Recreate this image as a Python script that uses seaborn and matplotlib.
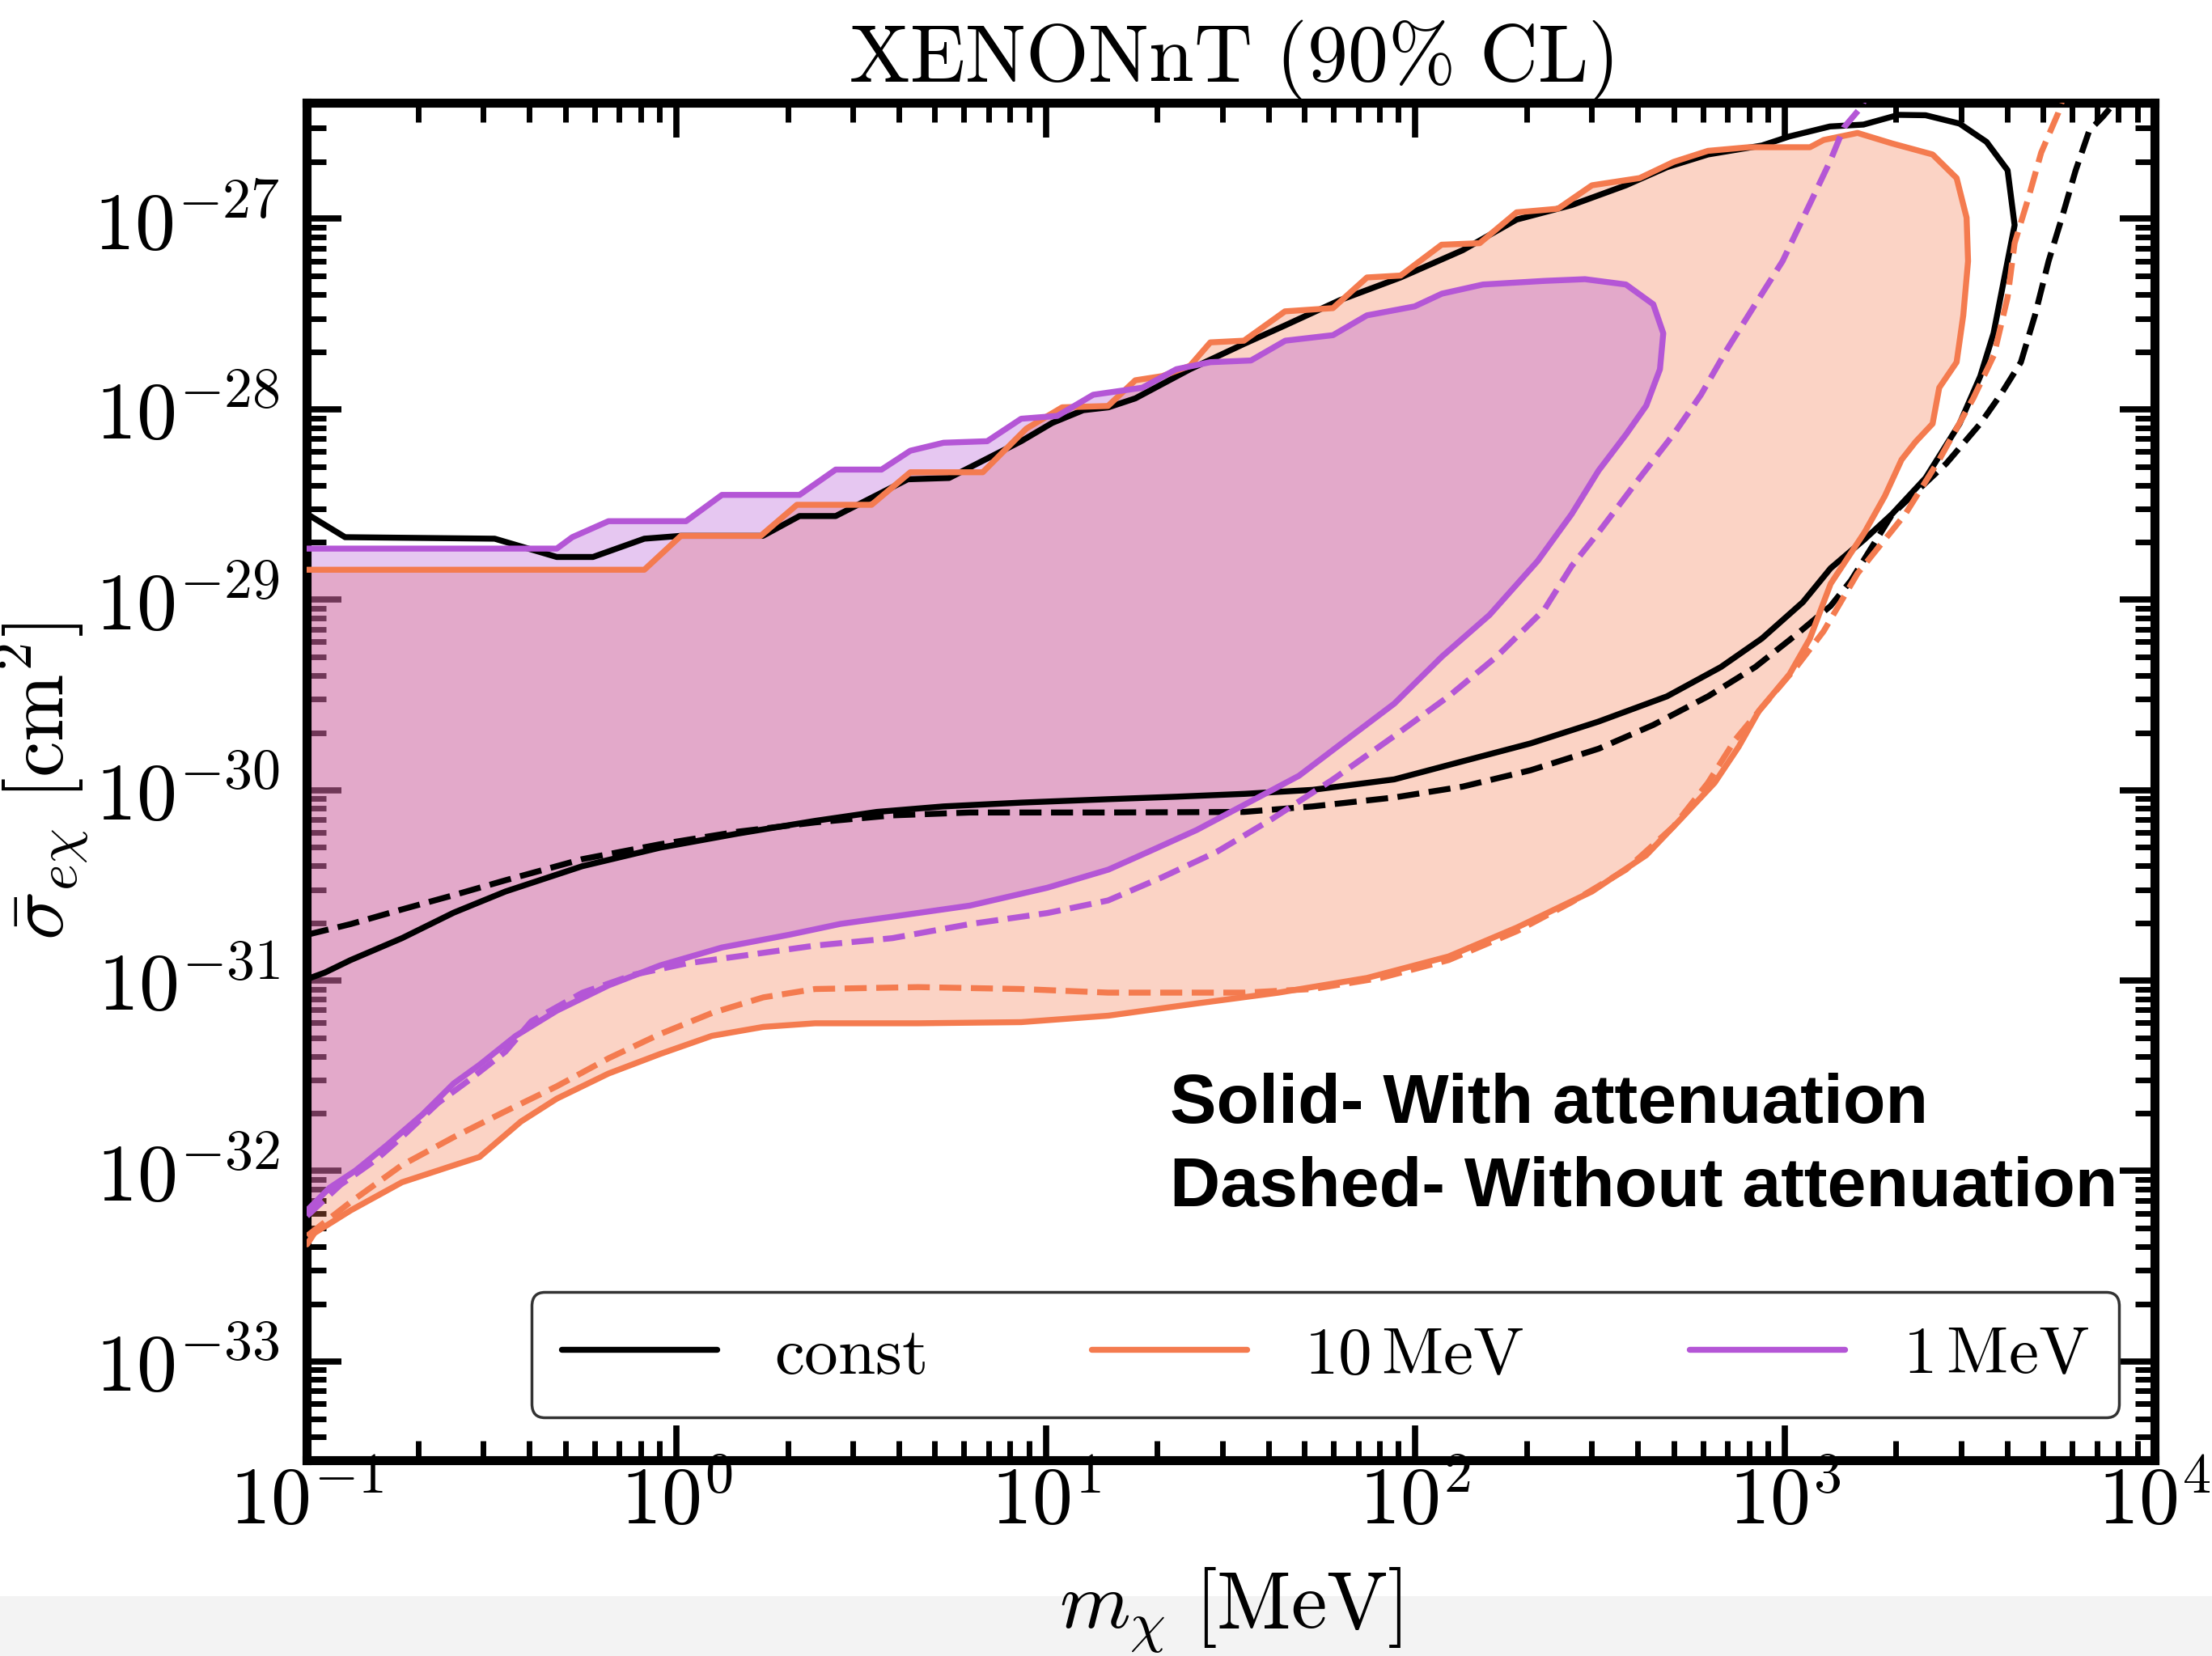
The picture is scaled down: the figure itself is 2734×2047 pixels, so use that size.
import numpy as np
import pandas as pd
import matplotlib
matplotlib.use("Agg")
import matplotlib.pyplot as plt
from matplotlib.lines import Line2D
from matplotlib.patches import Rectangle
from matplotlib.ticker import LogLocator, FuncFormatter, NullFormatter
import seaborn as sns

# --- curves: (log10 m_chi [MeV], log10 sigma [cm^2]) ---
# const mediator, with attenuation (solid, closed contour)
CONST_ATT = [
    (-1.0, -28.55), (-0.897, -28.672), (-0.492, -28.680), (-0.324, -28.776), (-0.226, -28.776),
    (-0.087, -28.680), (0.012, -28.665), (0.234, -28.665), (0.333, -28.561), (0.431, -28.561),
    (0.626, -28.368), (0.738, -28.361), (0.933, -28.168), (1.017, -28.072), (1.101, -28.005),
    (1.169, -27.990), (1.242, -27.943), (1.390, -27.790), (1.536, -27.657), (1.647, -27.560),
    (1.796, -27.427), (1.960, -27.308), (2.128, -27.165), (2.274, -27.004), (2.423, -26.928),
    (2.570, -26.824), (2.681, -26.729), (2.792, -26.662), (2.938, -26.615), (3.013, -26.567),
    (3.122, -26.515), (3.213, -26.505), (3.308, -26.454), (3.381, -26.456), (3.473, -26.500),
    (3.546, -26.596), (3.603, -26.745), (3.622, -27.033), (3.603, -27.222), (3.565, -27.601),
    (3.529, -27.827), (3.473, -28.076), (3.381, -28.361), (3.290, -28.551), (3.216, -28.683),
    (3.124, -28.835), (3.049, -29.013), (2.938, -29.204), (2.827, -29.354), (2.681, -29.508),
    (2.495, -29.641), (2.312, -29.755), (2.128, -29.849), (1.943, -29.944), (1.722, -29.999),
    (1.538, -30.020), (1.353, -30.035), (1.169, -30.048), (0.933, -30.066), (0.723, -30.086),
    (0.542, -30.115), (0.375, -30.162), (0.165, -30.229), (-0.045, -30.303), (-0.255, -30.400),
    (-0.463, -30.533), (-0.603, -30.644), (-0.743, -30.778), (-0.882, -30.893), (-0.952, -30.959),
    (-1.0, -30.993),
]
# const mediator, without attenuation (dashed)
CONST_NOATT = [
    (-1.0, -30.760), (-0.882, -30.704), (-0.743, -30.627), (-0.603, -30.552), (-0.463, -30.474),
    (-0.255, -30.363), (-0.045, -30.285), (0.165, -30.219), (0.375, -30.170), (0.585, -30.133),
    (0.794, -30.118), (1.168, -30.118), (1.536, -30.115), (1.722, -30.086), (1.943, -30.039),
    (2.128, -29.982), (2.312, -29.896), (2.496, -29.783), (2.644, -29.658), (2.792, -29.508),
    (2.920, -29.354), (3.031, -29.184), (3.124, -29.033), (3.179, -28.900), (3.291, -28.551),
    (3.437, -28.285), (3.529, -28.076), (3.584, -27.924), (3.639, -27.753), (3.677, -27.507),
    (3.714, -27.222), (3.750, -26.994), (3.787, -26.747), (3.824, -26.537), (3.861, -26.463),
    (3.897, -26.38),
]
# 10 MeV mediator, with attenuation (solid, filled)
MED10_ATT = [
    (-1.0, -28.843), (-0.087, -28.843), (0.012, -28.665), (0.228, -28.665), (0.326, -28.502),
    (0.528, -28.502), (0.633, -28.331), (0.829, -28.331), (0.947, -28.102), (1.044, -27.990),
    (1.168, -27.983), (1.242, -27.848), (1.315, -27.826), (1.390, -27.772), (1.445, -27.649),
    (1.536, -27.640), (1.647, -27.486), (1.777, -27.469), (1.869, -27.308), (1.960, -27.298),
    (2.071, -27.136), (2.174, -27.128), (2.274, -26.966), (2.386, -26.947), (2.478, -26.824),
    (2.607, -26.786), (2.699, -26.701), (2.792, -26.643), (2.902, -26.624), (3.068, -26.624),
    (3.105, -26.586), (3.197, -26.549), (3.290, -26.604), (3.400, -26.662), (3.465, -26.786),
    (3.492, -26.994), (3.496, -27.222), (3.483, -27.507), (3.465, -27.753), (3.418, -27.887),
    (3.400, -28.076), (3.354, -28.171), (3.316, -28.265), (3.271, -28.455), (3.216, -28.646),
    (3.124, -28.917), (3.068, -29.204), (3.013, -29.391), (2.930, -29.584), (2.875, -29.773),
    (2.810, -29.962), (2.718, -30.153), (2.625, -30.342), (2.478, -30.533), (2.275, -30.722),
    (2.090, -30.874), (1.869, -30.987), (1.630, -31.064), (1.408, -31.121), (1.169, -31.185),
    (0.933, -31.219), (0.654, -31.225), (0.375, -31.225), (0.235, -31.244), (0.096, -31.291),
    (-0.044, -31.386), (-0.184, -31.489), (-0.324, -31.621), (-0.421, -31.741), (-0.533, -31.927),
    (-0.603, -31.971), (-0.743, -32.060), (-0.882, -32.208), (-0.980, -32.327), (-1.0, -32.386),
]
# 10 MeV mediator, without attenuation (dashed)
MED10_NOATT = [
    (-1.0, -32.342), (-0.882, -32.164), (-0.744, -31.971), (-0.603, -31.823), (-0.465, -31.689),
    (-0.324, -31.556), (-0.183, -31.408), (-0.045, -31.282), (0.096, -31.171), (0.235, -31.089),
    (0.375, -31.045), (0.654, -31.035), (0.933, -31.045), (1.168, -31.064), (1.538, -31.064),
    (1.722, -31.045), (1.906, -30.987), (2.090, -30.893), (2.275, -30.741), (2.423, -30.589),
    (2.570, -30.418), (2.699, -30.191), (2.792, -29.962), (2.866, -29.735), (2.939, -29.564),
    (3.031, -29.354), (3.105, -29.166), (3.197, -28.862), (3.326, -28.551), (3.418, -28.265),
    (3.510, -27.943), (3.566, -27.716), (3.603, -27.412), (3.622, -27.128), (3.658, -26.899),
    (3.694, -26.652), (3.740, -26.444), (3.752, -26.37),
]
# 1 MeV mediator, with attenuation (solid, filled)
MED1_ATT = [
    (-1.0, -28.732), (-0.324, -28.732), (-0.282, -28.672), (-0.184, -28.588), (0.026, -28.588),
    (0.123, -28.450), (0.333, -28.450), (0.431, -28.317), (0.555, -28.317), (0.633, -28.218),
    (0.723, -28.176), (0.841, -28.168), (0.933, -28.050), (1.031, -28.035), (1.128, -27.924),
    (1.261, -27.887), (1.353, -27.790), (1.445, -27.753), (1.555, -27.744), (1.648, -27.640),
    (1.777, -27.611), (1.869, -27.507), (1.998, -27.460), (2.072, -27.393), (2.183, -27.345),
    (2.349, -27.326), (2.459, -27.317), (2.570, -27.345), (2.644, -27.449), (2.671, -27.601),
    (2.662, -27.790), (2.625, -27.981), (2.570, -28.133), (2.496, -28.322), (2.423, -28.551),
    (2.331, -28.797), (2.201, -29.080), (2.072, -29.299), (1.943, -29.546), (1.814, -29.735),
    (1.685, -29.925), (1.555, -30.059), (1.408, -30.210), (1.279, -30.323), (1.169, -30.418),
    (1.004, -30.513), (0.794, -30.607), (0.584, -30.665), (0.444, -30.703), (0.305, -30.760),
    (0.123, -30.827), (-0.044, -30.921), (-0.184, -31.026), (-0.324, -31.159), (-0.435, -31.291),
    (-0.533, -31.443), (-0.603, -31.541), (-0.687, -31.703), (-0.785, -31.867), (-0.869, -31.999),
    (-0.939, -32.089), (-1.0, -32.208),
]
# 1 MeV mediator, without attenuation (dashed)
MED1_NOATT = [
    (-1.0, -32.237), (-0.910, -32.074), (-0.813, -31.941), (-0.743, -31.822), (-0.645, -31.643),
    (-0.561, -31.523), (-0.463, -31.374), (-0.393, -31.215), (-0.254, -31.064), (-0.114, -30.969),
    (0.026, -30.911), (0.165, -30.874), (0.375, -30.817), (0.584, -30.778), (0.794, -30.704),
    (1.004, -30.646), (1.168, -30.580), (1.316, -30.457), (1.464, -30.323), (1.611, -30.153),
    (1.777, -29.944), (1.943, -29.716), (2.090, -29.508), (2.220, -29.299), (2.349, -29.052),
    (2.423, -28.824), (2.496, -28.646), (2.607, -28.361), (2.699, -28.131), (2.773, -27.924),
    (2.846, -27.678), (2.920, -27.449), (2.994, -27.222), (3.050, -26.994), (3.087, -26.843),
    (3.124, -26.691), (3.160, -26.520), (3.206, -26.415), (3.217, -26.37),
]

LABELS = [r"$\mathrm{const}$", r"$10\,\mathrm{MeV}$", r"$1\,\mathrm{MeV}$"]
COLORS = ["black", "#F47B4F", "#B456D6"]
LW = 5.3


def to_frame(points):
    df = pd.DataFrame(points, columns=["logm", "logsig"])
    df["m"] = 10 ** df["logm"]
    df["sigma"] = 10 ** df["logsig"]
    return df


def main():
    sns.set_theme(style="ticks")
    plt.rcParams.update({
        "mathtext.fontset": "cm",
        "axes.edgecolor": "black",
        "axes.labelcolor": "black",
        "text.color": "black",
        "xtick.color": "black",
        "ytick.color": "black",
        "axes.linewidth": 8,
        "xtick.direction": "in",
        "ytick.direction": "in",
        "xtick.top": True,
        "ytick.right": True,
    })
    plt.rcParams["font.family"] = ["DejaVu Serif"]

    fig = plt.figure(figsize=(27.34, 20.47), dpi=100)
    ax = fig.add_axes([0.1388, 0.1182, 0.8351, 0.8198])
    ax.set_xscale("log")
    ax.set_yscale("log")

    curves = [
        (CONST_ATT, CONST_NOATT, COLORS[0], False),
        (MED10_ATT, MED10_NOATT, COLORS[1], True),
        (MED1_ATT, MED1_NOATT, COLORS[2], True),
    ]

    # shaded exclusion regions (with attenuation)
    for att, _, col, filled in curves:
        if filled:
            d = to_frame(att)
            ax.fill(d["m"], d["sigma"], color=col, alpha=0.33, lw=0, zorder=1)

    for att, noatt, col, _ in curves:
        d = to_frame(noatt)
        sns.lineplot(data=d, x="m", y="sigma", sort=False, estimator=None, color=col,
                     lw=LW, linestyle="--", ax=ax, zorder=3)
        d = to_frame(att)
        sns.lineplot(data=d, x="m", y="sigma", sort=False, estimator=None, color=col,
                     lw=LW, linestyle="-", ax=ax, zorder=3)

    ax.set_xlim(1e-1, 1e4)
    ax.set_ylim(10 ** -33.52, 10 ** -26.39)

    fmt = FuncFormatter(lambda v, p: rf"$10^{{{int(np.round(np.log10(v)))}}}$")
    for axis in (ax.xaxis, ax.yaxis):
        axis.set_major_locator(LogLocator(base=10, numticks=100))
        axis.set_minor_locator(LogLocator(base=10, subs=np.arange(2, 10), numticks=100))
        axis.set_major_formatter(fmt)
        axis.set_minor_formatter(NullFormatter())
    ax.tick_params(which="major", length=31, width=5.5, labelsize=72)
    ax.tick_params(which="minor", length=17, width=5)
    ax.tick_params(axis="x", which="both", pad=3)
    ax.tick_params(axis="y", which="both", pad=24)

    ax.set_xlabel(r"$m_\chi\ [\mathrm{MeV}]$", fontsize=72, labelpad=22)
    ax.set_ylabel(r"$\bar{\sigma}_{e\chi}\ [\mathrm{cm}^2]$", fontsize=72, labelpad=4)
    ax.set_title(r"$\mathrm{XENONnT\ (90\%\ CL)}$", fontsize=72, pad=20)

    handles = [Line2D([], [], color=c, lw=LW) for c in COLORS]
    leg = ax.legend(handles, LABELS, loc="lower right", bbox_to_anchor=(0.981, 0.0316),
                    borderaxespad=0, ncol=3, fontsize=60, handlelength=2.3,
                    handletextpad=0.86, columnspacing=2.45, borderpad=0.45,
                    frameon=True, fancybox=True, framealpha=1, edgecolor="0.2")
    leg.get_frame().set_linewidth(2.5)
    leg.set_zorder(10)

    note_font = ["Liberation Sans", "DejaVu Sans"]
    ax.text(0.467, 0.2486, "Solid- With attenuation", transform=ax.transAxes,
            fontsize=62, fontweight="bold", family=note_font, va="baseline", ha="left", zorder=6)
    ax.text(0.467, 0.187, "Dashed- Without attenuation", transform=ax.transAxes,
            fontsize=62, fontweight="bold", family=note_font, va="baseline", ha="left", zorder=6)

    # light grey strip at the very bottom of the screenshot
    fig.add_artist(Rectangle((0, 0), 1, 0.036, transform=fig.transFigure,
                             facecolor="#f3f3f3", edgecolor="none", zorder=-5))

    fig.savefig("out.png", dpi=100)


if __name__ == "__main__":
    main()
